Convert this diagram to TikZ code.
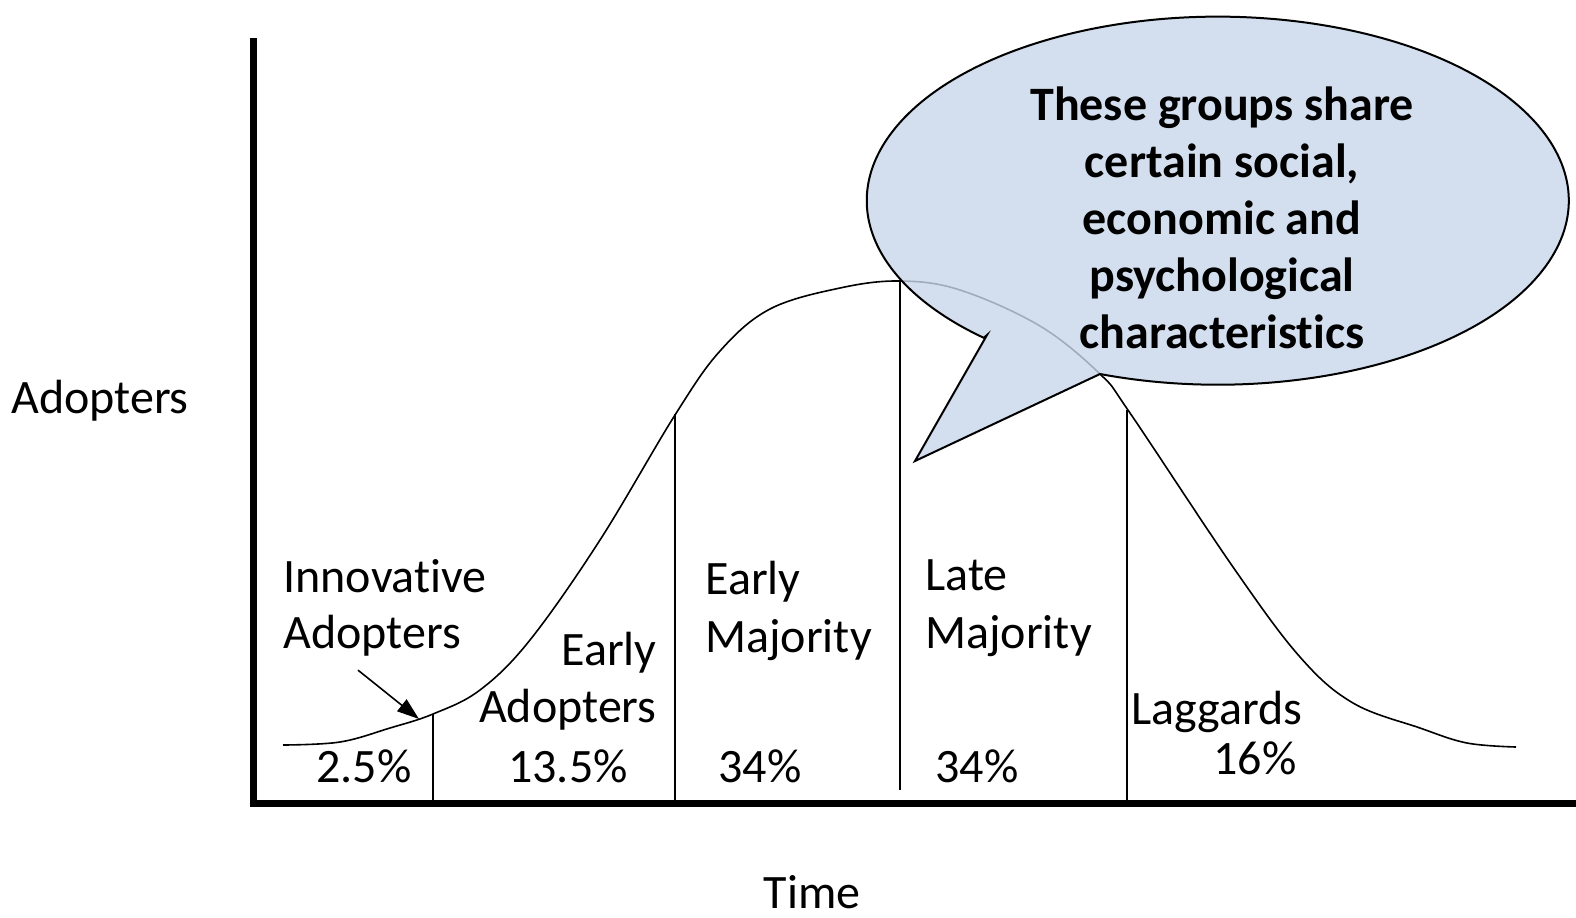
\documentclass[tikz,border=0pt]{standalone}
\usepackage{fontspec}
\setmainfont{Carlito}[Ligatures={NoCommon,NoContextual}]
\usetikzlibrary{arrows.meta}
\definecolor{callblue}{RGB}{200,215,234}
\begin{document}
\begin{tikzpicture}
  [x=0.5pt,y=0.5pt,
   every node/.style={font=\fontsize{24}{28.5}\selectfont,inner sep=0pt},
   axis/.style={line width=3.5pt},
   divider/.style={line width=0.7pt},
   bubble/.style={draw=black,line width=1pt,fill=callblue,fill opacity=0.8}]
  \useasboundingbox (0,0) rectangle (1576,-917);

  % axes
  \draw[axis] (253,-38) -- (253,-803) -- (1580,-803);
  \node[anchor=base] (yname) at (100,-413) {Adopters};
  \node[anchor=base] (xname) at (812,-908) {Time};

  % adoption curve
  \draw[line width=0.8pt] plot[smooth,tension=0.6] coordinates
    {(283,-745) (340,-742) (390,-728) (433,-714) (480,-690)
     (530,-640) (600,-540) (675,-415) (720,-351) (770,-309) (840,-288)
     (900,-281) (960,-290) (1040,-326) (1100,-374) (1130,-413) (1233,-567)
     (1300,-657) (1353,-703) (1420,-728) (1467,-743) (1516,-747)};

  \coordinate (d1) at (433,-714);
  \coordinate (d2) at (675,-414);
  \coordinate (d3) at (900,-281);
  \coordinate (d4) at (1127,-410);
  \draw[divider] (d1) -- (d1 |- 0,-803);
  \draw[divider] (d2) -- (d2 |- 0,-803);
  \draw[divider] (d3) -- (d3 |- 0,-790);
  \draw[divider] (d4) -- (d4 |- 0,-803);

  % group labels
  \node[anchor=base west] (innov) at (283,-592) {Innovative};
  \node[anchor=base west] (innov2) at (283,-648) {Adopters};
  \node[anchor=base east] (early) at (657,-665) {Early};
  \node[anchor=base east] (early2) at (657,-722) {Adopters};
  \node[anchor=base west] (emaj) at (705,-594) {Early};
  \node[anchor=base west] (emaj2) at (705,-652) {Majority};
  \node[anchor=base west] (lmaj) at (925,-590) {Late};
  \node[anchor=base west] (lmaj2) at (925,-648) {Majority};
  \node[anchor=base west] (lag) at (1131,-724) {Laggards};
  \node[anchor=base east] (lag2) at (1297,-774) {16\%};

  \node[anchor=base] (p1) at (364,-782) {2.5\%};
  \node[anchor=base] (p2) at (568,-782) {13.5\%};
  \node[anchor=base] (p3) at (760,-782) {34\%};
  \node[anchor=base] (p4) at (977,-782) {34\%};

  \coordinate (tip) at (419,-719);
  \draw[line width=0.8pt,-{Triangle[length=11pt,width=7.5pt]}]
    (innov2.south west) ++(75,-14) -- (tip);

  % callout
  \draw[bubble] (987,-335) -- (915,-461) -- (1100,-374)
    arc[start angle=250.4,end angle=588.2,x radius=351,y radius=184] -- cycle;
  \node[font=\fontsize{24}{28.5}\selectfont\bfseries,align=center,anchor=base]
    (note) at (1222,-348)
    {These groups share\\certain social,\\economic and\\psychological\\characteristics};
\end{tikzpicture}
\end{document}
